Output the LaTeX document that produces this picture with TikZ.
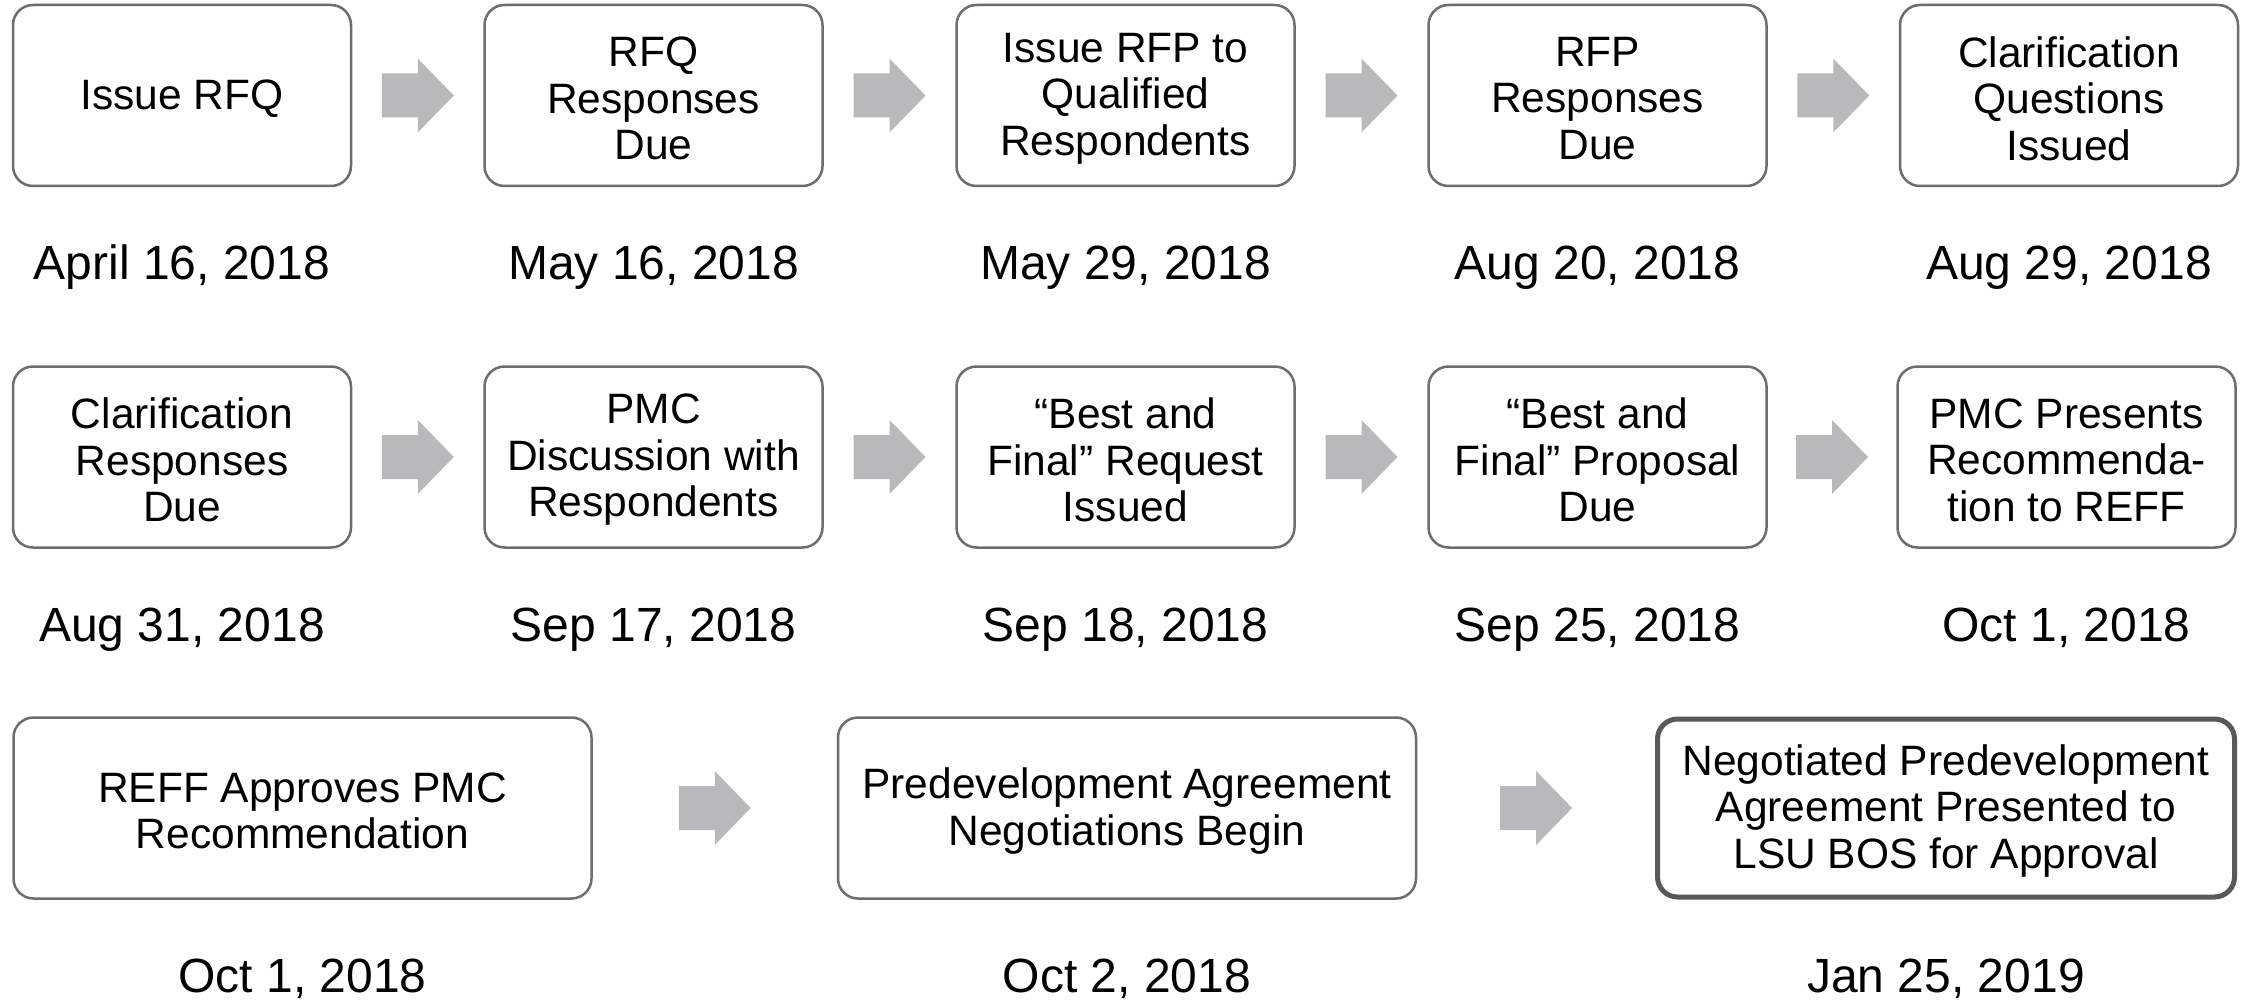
\documentclass[tikz,border=0pt]{standalone}
\usepackage{fontspec}
\setmainfont{Liberation Sans}
\usetikzlibrary{calc}
\definecolor{boxline}{RGB}{108,109,112}
\definecolor{boxthick}{RGB}{88,89,91}
\definecolor{arrowgray}{RGB}{184,185,187}
\newcommand{\stepnode}[5]{%
  \node[#1] (#2) at (#3) {};
  \node[boxtext] (t-#2) at ([yshift=-3pt]#2.center) {#4};
  \node[datelbl] (d-#2) at ([yshift=-184pt]#2.south) {#5};
}
\begin{document}
\begin{tikzpicture}[x=1pt,y=-1pt,
  stepbox/.style={draw=boxline,line width=2.5pt,rounded corners=20pt,fill=white,
    minimum width=338pt,minimum height=181pt,inner sep=0pt},
  widebox/.style={stepbox,minimum width=578pt},
  finalbox/.style={widebox,draw=boxthick,line width=5pt,minimum width=577pt,minimum height=178pt},
  boxtext/.style={align=center,inner sep=0pt,font=\fontsize{42.5}{46.5}\selectfont},
  datelbl/.style={anchor=base,inner sep=0pt,font=\fontsize{48}{52}\selectfont},
  blockarrow/.style={fill=arrowgray}
]
\useasboundingbox (0,0) rectangle (2249,1000);
% row 1
\node[stepbox] (a1) at (182,95.5) {};
\node[boxtext] (t-a1) at ([yshift=-3pt]a1.center) {Issue RFQ};
\node[stepbox] (a2) at (653.5,95.5) {};
\node[boxtext] (t-a2) at ([yshift=-3pt]a2.center) {RFQ\\Responses\\Due};
\node[stepbox] (a3) at (1125.5,95.5) {};
\node[boxtext] (t-a3) at ([yshift=-3pt]a3.center) {Issue RFP to\\Qualified\\Respondents};
\node[stepbox] (a4) at (1597.5,95.5) {};
\node[boxtext] (t-a4) at ([yshift=-3pt]a4.center) {RFP\\Responses\\Due};
\node[stepbox] (a5) at (2069,95.5) {};
\node[boxtext] (t-a5) at ([yshift=-3pt]a5.center) {Clarification\\Questions\\Issued};
\node[datelbl] (da1) at (182,280) {April 16, 2018};
\node[datelbl] (da2) at (653.5,280) {May 16, 2018};
\node[datelbl] (da3) at (1125.5,280) {May 29, 2018};
\node[datelbl] (da4) at (1597.5,280) {Aug 20, 2018};
\node[datelbl] (da5) at (2069,280) {Aug 29, 2018};
% row 2
\node[stepbox] (b1) at (182,457) {};
\node[boxtext] (t-b1) at ([yshift=-3pt]b1.center) {Clarification\\Responses\\Due};
\node[stepbox] (b2) at (653.5,457) {};
\node[boxtext] (t-b2) at ([yshift=-3pt]b2.center) {PMC\\Discussion with\\Respondents};
\node[stepbox] (b3) at (1125.5,457) {};
\node[boxtext] (t-b3) at ([yshift=-3pt]b3.center) {“Best and\\Final” Request\\Issued};
\node[stepbox] (b4) at (1597.5,457) {};
\node[boxtext] (t-b4) at ([yshift=-3pt]b4.center) {“Best and\\Final” Proposal\\Due};
\node[stepbox] (b5) at (2066.5,457) {};
\node[boxtext] (t-b5) at ([yshift=-3pt]b5.center) {PMC Presents\\Recommenda-\\tion to REFF};
\node[datelbl] (db1) at (182,641) {Aug 31, 2018};
\node[datelbl] (db2) at (653.5,641) {Sep 17, 2018};
\node[datelbl] (db3) at (1125.5,641) {Sep 18, 2018};
\node[datelbl] (db4) at (1597.5,641) {Sep 25, 2018};
\node[datelbl] (db5) at (2066.5,641) {Oct 1, 2018};
% row 3
\node[widebox] (c1) at (302.5,808) {};
\node[boxtext] (t-c1) at ([yshift=-3pt]c1.center) {REFF Approves PMC\\Recommendation};
\node[widebox] (c2) at (1127,808) {};
\node[boxtext] (t-c2) at ([yshift=-3pt]c2.center) {Predevelopment Agreement\\Negotiations Begin};
\node[finalbox] (c3) at (1946,808) {};
\node[boxtext] (t-c3) at ([yshift=-3pt]c3.center) {Negotiated Predevelopment\\Agreement Presented to\\LSU BOS for Approval};
\node[datelbl] (dc1) at (302.5,992) {Oct 1, 2018};
\node[datelbl] (dc2) at (1127,992) {Oct 2, 2018};
\node[datelbl] (dc3) at (1946,992) {Jan 25, 2019};
% block arrows
\foreach \p/\q in {a1/a2,a2/a3,a3/a4,a4/a5,b1/b2,b2/b3,b3/b4,b4/b5,c1/c2,c2/c3}{
  \coordinate (m-\p) at ($(\p.east)!0.5!(\q.west)$);
  \fill[blockarrow] (m-\p) ++(-36,-22) -- ++(36,0) -- ++(0,-15) -- ++(36,37)
    -- ++(-36,37) -- ++(0,-15) -- ++(-36,0) -- cycle;
}
\end{tikzpicture}
\end{document}
